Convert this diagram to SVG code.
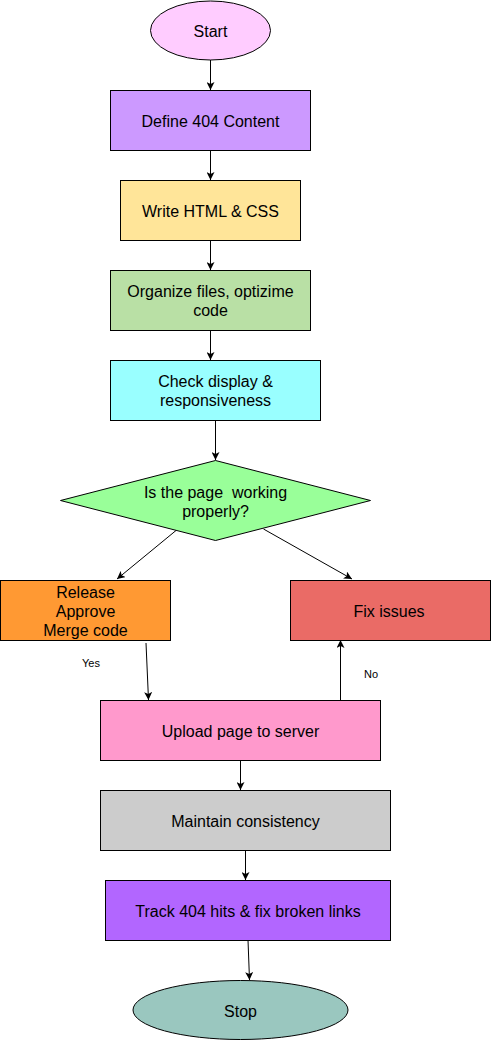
<svg xmlns="http://www.w3.org/2000/svg" width="491" height="1041" viewBox="0 0 491 1041">
<style>
.n{stroke:#000;stroke-width:1}
.t{font-family:"Liberation Sans",Arial,sans-serif;font-size:16px;fill:#000;text-anchor:middle}
.l{font-family:"Liberation Sans",Arial,sans-serif;font-size:11px;fill:#000;text-anchor:middle}
.c{stroke:#000;stroke-width:1;fill:none;marker-end:url(#a)}
</style>
<defs>
<marker id="a" markerUnits="userSpaceOnUse" viewBox="0 0 8 8" markerWidth="8" markerHeight="8" refX="8" refY="4" orient="auto">
<path d="M0,0 L8,4 L0,8 L2,4 Z" fill="#000"/>
</marker>
</defs>
<rect width="491" height="1041" fill="#fff"/>
<g id="connectors">
<line class="c" x1="210.5" y1="60" x2="210.5" y2="90"/>
<line class="c" x1="210.5" y1="150" x2="210.5" y2="180"/>
<line class="c" x1="210.5" y1="240" x2="210.5" y2="270"/>
<line class="c" x1="210.5" y1="330" x2="210.5" y2="360"/>
<line class="c" x1="215.5" y1="420" x2="215.5" y2="460"/>
<line class="c" x1="176" y1="530.5" x2="117" y2="579"/>
<line class="c" x1="263.5" y1="529" x2="352" y2="579"/>
<line class="c" x1="146" y1="643" x2="148.5" y2="700"/>
<line class="c" x1="340.5" y1="700" x2="340.5" y2="640"/>
<line class="c" x1="240.5" y1="760" x2="240.5" y2="790"/>
<line class="c" x1="245.5" y1="850" x2="245.5" y2="880"/>
<line class="c" x1="248" y1="940" x2="249.5" y2="980"/>
<text class="l" x="91" y="667">Yes</text>
<text class="l" x="371" y="677.5">No</text>
</g>
<g id="start">
<ellipse class="n" cx="210.5" cy="30.5" rx="60" ry="29.5" fill="#FFCCFF"/>
<text class="t" x="210.5" y="37">Start</text>
</g>
<g id="define">
<rect class="n" x="110.5" y="90.5" width="200" height="60" fill="#CC99FF"/>
<text class="t" x="210.5" y="127">Define 404 Content</text>
</g>
<g id="write">
<rect class="n" x="120.5" y="180.5" width="180" height="60" fill="#FFE599"/>
<text class="t" x="210.5" y="217">Write HTML &amp; CSS</text>
</g>
<g id="organize">
<rect class="n" x="110.5" y="270.5" width="200" height="60" fill="#B9E0A5"/>
<text class="t" x="210.5" y="296.5">Organize files, optizime</text>
<text class="t" x="210.5" y="316">code</text>
</g>
<g id="check">
<rect class="n" x="110.5" y="360.5" width="210" height="60" fill="#99FFFF"/>
<text class="t" x="215.5" y="386.5">Check display &amp;</text>
<text class="t" x="215.5" y="406">responsiveness</text>
</g>
<g id="decision">
<polygon class="n" points="215.5,460.5 370.5,500.5 215.5,540.5 60.5,500.5" fill="#99FF99"/>
<text class="t" x="215.5" y="497.5" xml:space="preserve">Is the page  working</text>
<text class="t" x="215.5" y="517">properly?</text>
</g>
<g id="release">
<rect class="n" x="0.5" y="580.5" width="170" height="60" fill="#FF9933"/>
<text class="t" x="85.5" y="597.5">Release</text>
<text class="t" x="85.5" y="616.5">Approve</text>
<text class="t" x="85.5" y="635.5">Merge code</text>
</g>
<g id="fix">
<rect class="n" x="290.5" y="580.5" width="200" height="60" fill="#EA6B66"/>
<text class="t" x="389" y="617">Fix issues</text>
</g>
<g id="upload">
<rect class="n" x="100.5" y="700.5" width="280" height="60" fill="#FF99CC"/>
<text class="t" x="240.5" y="737">Upload page to server</text>
</g>
<g id="maintain">
<rect class="n" x="100.5" y="790.5" width="290" height="60" fill="#CCCCCC"/>
<text class="t" x="245.5" y="827">Maintain consistency</text>
</g>
<g id="track">
<rect class="n" x="105.5" y="880.5" width="285" height="60" fill="#B266FF"/>
<text class="t" x="248" y="917">Track 404 hits &amp; fix broken links</text>
</g>
<g id="stop">
<ellipse class="n" cx="240.5" cy="1010" rx="107.5" ry="29.5" fill="#9AC7BF"/>
<text class="t" x="240.5" y="1017">Stop</text>
</g>
</svg>
